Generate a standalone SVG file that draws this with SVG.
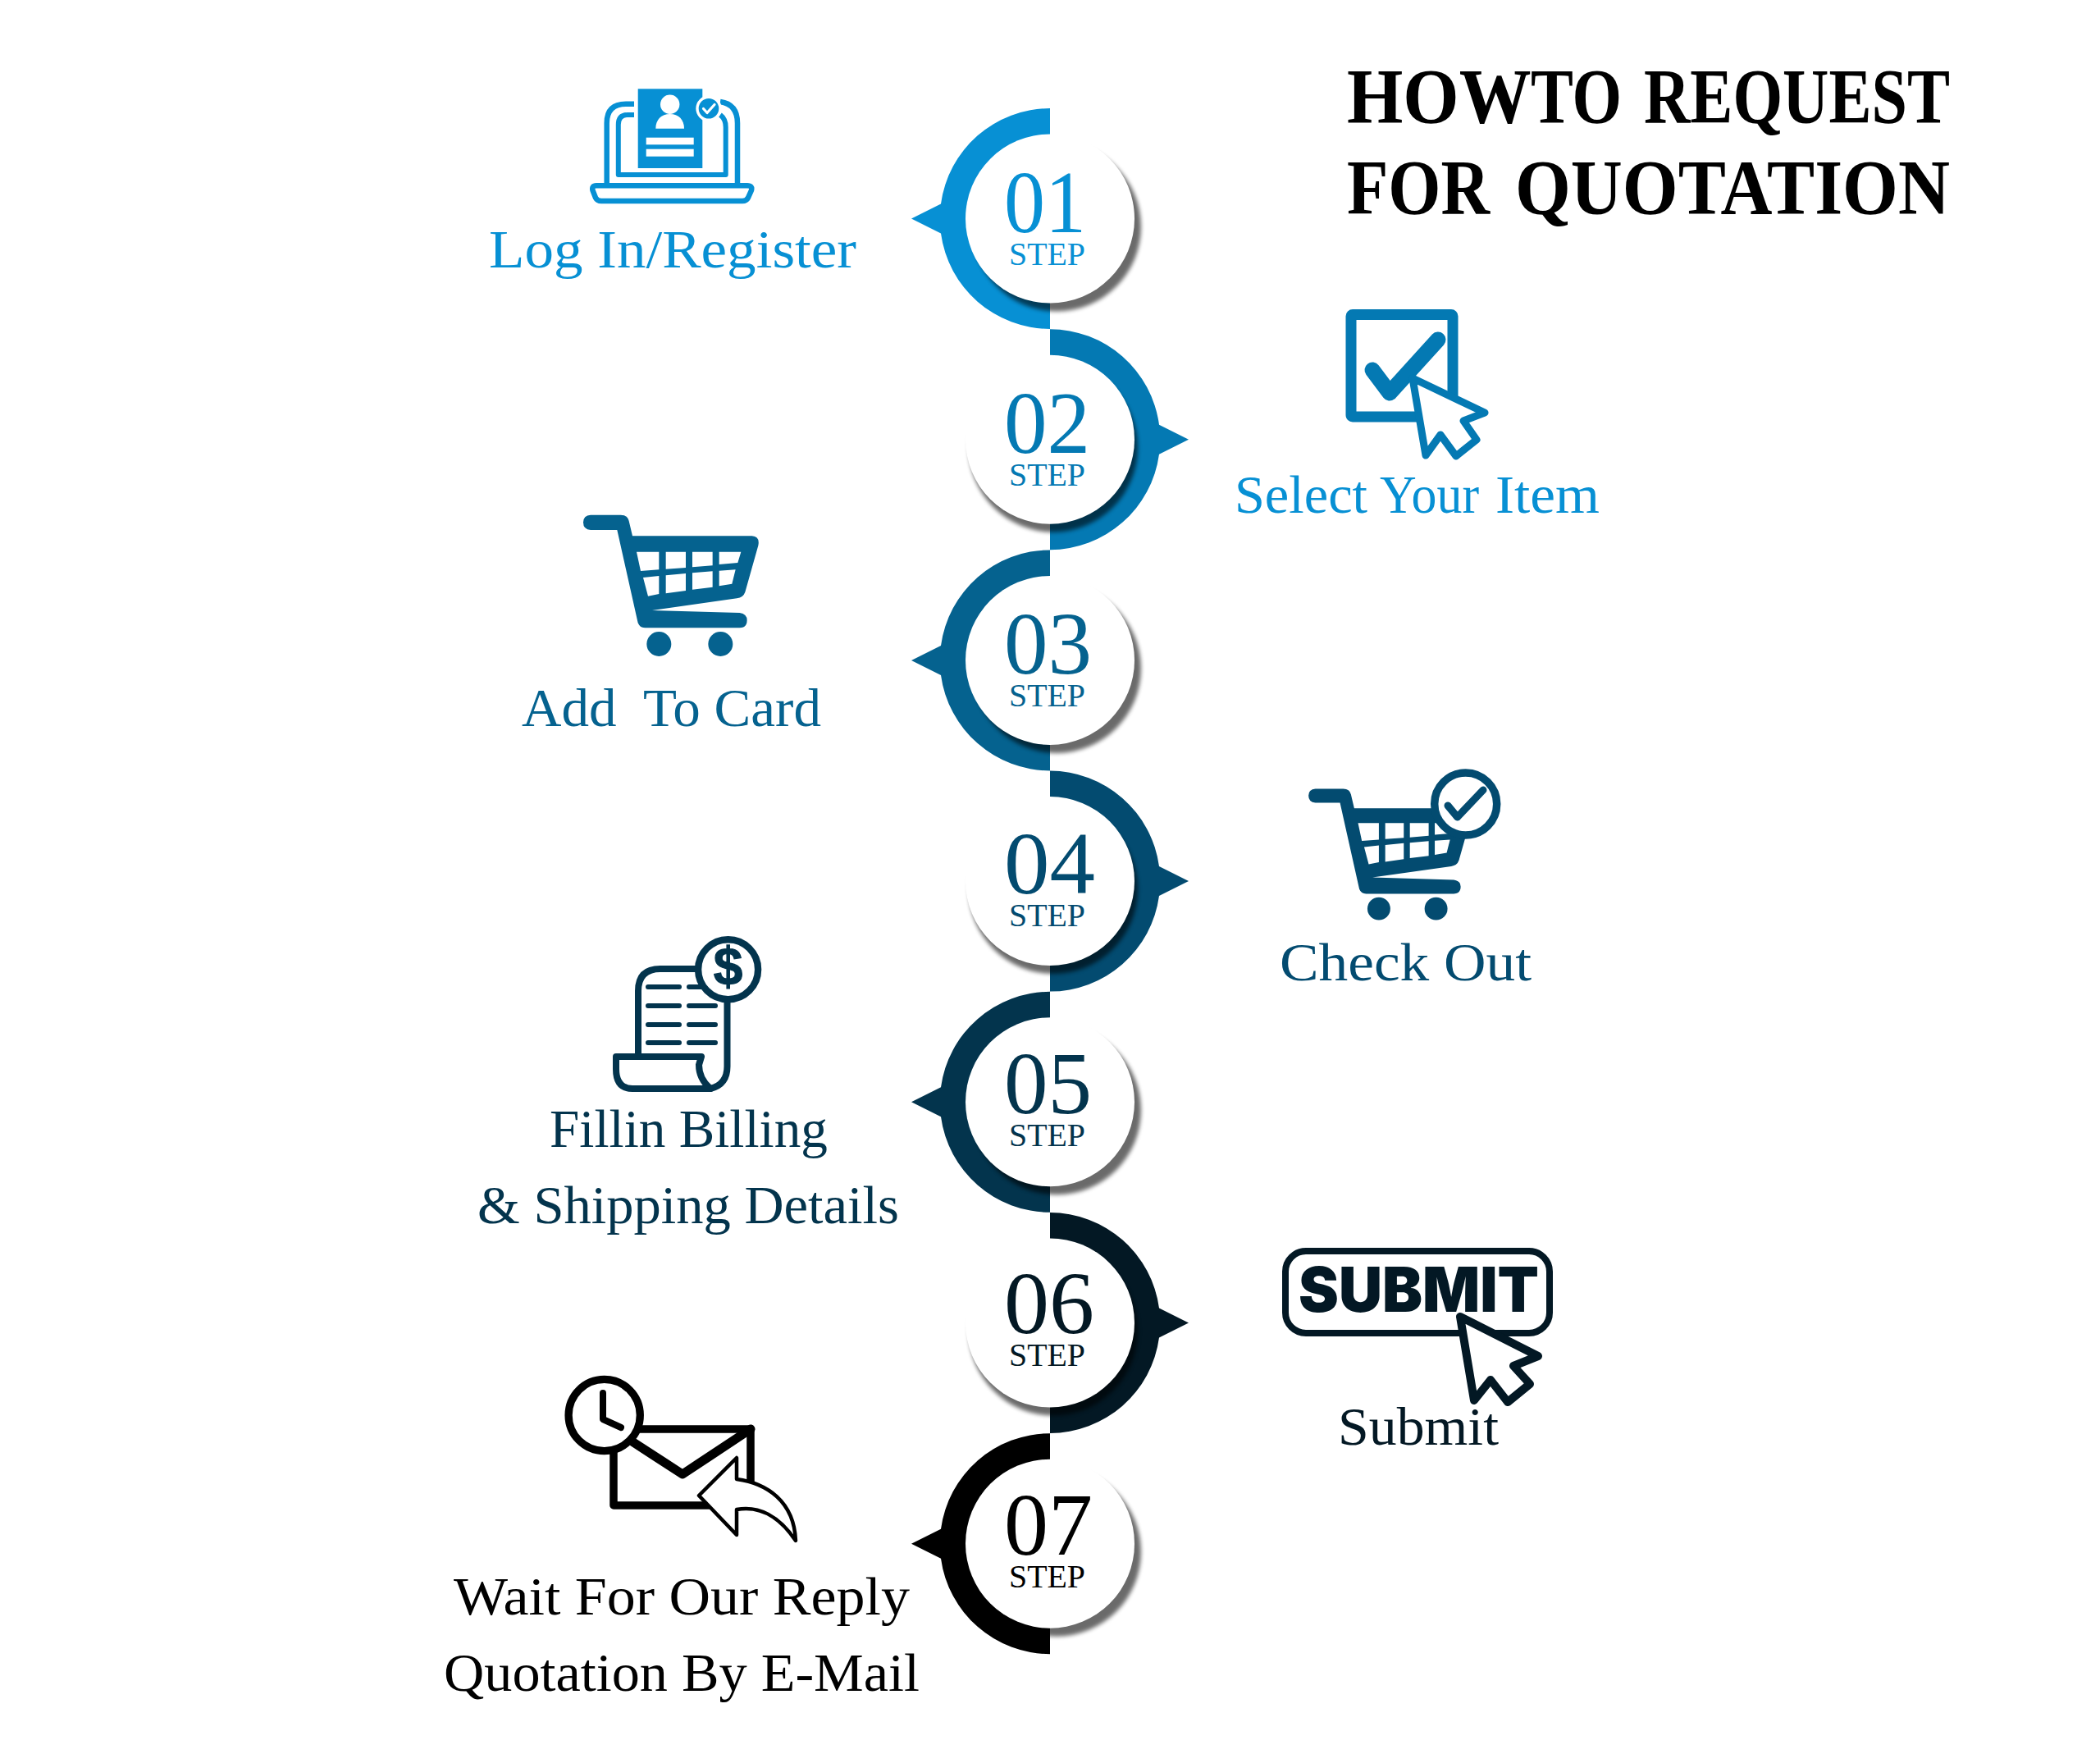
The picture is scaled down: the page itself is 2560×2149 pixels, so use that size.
<svg xmlns="http://www.w3.org/2000/svg" width="2560" height="2149" viewBox="0 0 2560 2149">
<style>
text{font-family:"Liberation Serif","Times New Roman",serif;fill:currentColor}
.c1{color:#0790d4}.c2{color:#0479b3}.c3{color:#05628f}.c4{color:#034b70}.c5{color:#03344d}.c6{color:#031824}.c7{color:#000}
.f{fill:currentColor}.s{fill:none;stroke:currentColor;stroke-linecap:round;stroke-linejoin:round}
.w{fill:#fff}
.num{font-size:108px}.stp{font-size:40px}.lab{font-size:66px}.ttl{font-size:95px;font-weight:700}
.sh{fill:#000;opacity:.58;filter:url(#blur)}
.cur{fill:#fff;stroke:currentColor;stroke-linejoin:round}
</style>
<defs>
<filter id="blur" x="-20%" y="-20%" width="140%" height="140%"><feGaussianBlur stdDeviation="2.5"/></filter>
<path id="halfL" d="M0-134.5A134.5 134.5 0 0 0-133-18L-169 0-133 18A134.5 134.5 0 0 0 0 134.5Z"/>
<path id="halfR" d="M0-134.5A134.5 134.5 0 0 1 133-18L169 0 133 18A134.5 134.5 0 0 1 0 134.5Z"/>
<g id="disc"><circle r="103" class="w"/></g>
<g id="cart">
<path class="f" fill-rule="evenodd" d="M360 83H470Q495 83 500 105L513 160H950Q980 162 973 195L925 365Q918 385 895 388L585 432 905 441Q932 445 932 468 932 495 905 496H560Q540 496 533 478L457 138H360Q333 136 333 110 333 85 360 83ZM528 218H610V283L543 288ZM635 218H708V276L635 281ZM732 218H806V268L732 274ZM830 218H910L898 258 830 264ZM552 312 610 306V372L570 380ZM635 304 708 297V360L635 370ZM732 295 806 289V347L732 356ZM830 287 890 283 877 335 830 343Z"/>
<circle class="f" cx="610" cy="555" r="45"/><circle class="f" cx="835" cy="555" r="45"/>
</g>
</defs>
<rect width="2560" height="2149" fill="#fff"/>
<g id="title" class="c7">
<text class="ttl" y="150"><tspan x="1642" textLength="223" lengthAdjust="spacingAndGlyphs">HOW</tspan> <tspan x="1866" textLength="111" lengthAdjust="spacingAndGlyphs">TO</tspan> <tspan x="2004" textLength="373" lengthAdjust="spacingAndGlyphs">REQUEST</tspan></text>
<text class="ttl" y="261"><tspan x="1642" textLength="174" lengthAdjust="spacingAndGlyphs">FOR</tspan> <tspan x="1847" textLength="530" lengthAdjust="spacingAndGlyphs">QUOTATION</tspan></text>
</g>
<g id="connectors"></g>

<g id="step-01" class="c1" transform="translate(1280 266.5)">
<use href="#halfL" class="f"/><circle class="sh" cx="8" cy="10" r="103"/><use href="#disc"/>
<text class="num" x="-56" y="16.5" textLength="100" lengthAdjust="spacingAndGlyphs">01</text><text class="stp" x="-50" y="56.5" textLength="93" lengthAdjust="spacingAndGlyphs">STEP</text>
</g>
<g id="step-02" class="c2" transform="translate(1280 535.7)">
<use href="#halfR" class="f"/><circle class="sh" cx="4" cy="10" r="103"/><use href="#disc"/>
<text class="num" x="-56" y="16.5" textLength="105" lengthAdjust="spacingAndGlyphs">02</text><text class="stp" x="-50" y="56.5" textLength="93" lengthAdjust="spacingAndGlyphs">STEP</text>
</g>
<g id="step-03" class="c3" transform="translate(1280 804.9)">
<use href="#halfL" class="f"/><circle class="sh" cx="8" cy="10" r="103"/><use href="#disc"/>
<text class="num" x="-56" y="16.5" textLength="107" lengthAdjust="spacingAndGlyphs">03</text><text class="stp" x="-50" y="56.5" textLength="93" lengthAdjust="spacingAndGlyphs">STEP</text>
</g>
<g id="step-04" class="c4" transform="translate(1280 1074.1)">
<use href="#halfR" class="f"/><circle class="sh" cx="4" cy="10" r="103"/><use href="#disc"/>
<text class="num" x="-56" y="15" textLength="111" lengthAdjust="spacingAndGlyphs">04</text><text class="stp" x="-50" y="55" textLength="93" lengthAdjust="spacingAndGlyphs">STEP</text>
</g>
<g id="step-05" class="c5" transform="translate(1280 1343.3)">
<use href="#halfL" class="f"/><circle class="sh" cx="8" cy="10" r="103"/><use href="#disc"/>
<text class="num" x="-56" y="13.5" textLength="107" lengthAdjust="spacingAndGlyphs">05</text><text class="stp" x="-50" y="53.5" textLength="93" lengthAdjust="spacingAndGlyphs">STEP</text>
</g>
<g id="step-06" class="c6" transform="translate(1280 1612.5)">
<use href="#halfR" class="f"/><circle class="sh" cx="4" cy="10" r="103"/><use href="#disc"/>
<text class="num" x="-56" y="12" textLength="110" lengthAdjust="spacingAndGlyphs">06</text><text class="stp" x="-50" y="52" textLength="93" lengthAdjust="spacingAndGlyphs">STEP</text>
</g>
<g id="step-07" class="c7" transform="translate(1280 1881.7)">
<use href="#halfL" class="f"/><circle class="sh" cx="8" cy="10" r="103"/><use href="#disc"/>
<text class="num" x="-56" y="13.5" textLength="108" lengthAdjust="spacingAndGlyphs">07</text><text class="stp" x="-50" y="53.5" textLength="93" lengthAdjust="spacingAndGlyphs">STEP</text>
</g>

<g id="login" class="c1">
<path class="s" stroke-width="6.5" style="stroke-linecap:butt" d="M773 126.8H763Q739.7 126.8 739.7 150V226M899 226V150Q899 127 878 124"/>
<path class="s" stroke-width="6" style="stroke-linecap:butt" d="M773 140H765Q753.8 140 753.8 152V213H884.7V155Q884.7 145 878 140"/>
<rect class="f" x="777.7" y="108.3" width="78.6" height="96.7"/>
<circle class="w" cx="816.7" cy="127.3" r="11.7"/>
<path class="w" d="M799.3 156.7C799.3 146 806 139 816.7 139S834 146 834 156.7Z"/>
<rect class="w" x="787.7" y="167.7" width="58" height="8.6"/><rect class="w" x="787.7" y="181.7" width="58" height="9"/>
<circle class="f" cx="864" cy="132.3" r="14" stroke="#fff" stroke-width="3.4"/>
<path d="M857.5 132.5 862 137.5 871 127.5" fill="none" stroke="#fff" stroke-width="3.2" stroke-linecap="round" stroke-linejoin="round"/>
<path class="w" stroke="currentColor" stroke-width="6.5" stroke-linejoin="round" d="M727 226.2H911Q917.5 226.2 916 232L912 241Q910 245 905 245H733Q728 245 726 241L722.5 232Q721 226.2 727 226.2Z"/>
<text class="lab" x="596" y="326" textLength="448" lengthAdjust="spacingAndGlyphs">Log In/Register</text>
</g>

<g id="select" class="c2">
<rect x="1647" y="383.5" width="124" height="124.5" rx="2" class="s" stroke-width="13"/>
<path class="s" stroke-width="19" d="M1673 451 1694 479 1753 414"/>
<path class="cur" stroke-width="9" d="M1722 461 1810 503 1784 513 1800 536 1775 556 1756 530 1738 555Z"/>
<text class="lab c1" y="625"><tspan x="1505" textLength="162" lengthAdjust="spacingAndGlyphs">Select</tspan> <tspan x="1682" textLength="121" lengthAdjust="spacingAndGlyphs">Your</tspan> <tspan x="1823" textLength="127" lengthAdjust="spacingAndGlyphs">Item</tspan></text>
</g>

<g id="add-to-card" class="c3">
<use href="#cart" transform="translate(600 600) scale(.33333)"/>
<text class="lab" x="636" y="885" textLength="365" lengthAdjust="spacingAndGlyphs" xml:space="preserve">Add  To Card</text>
</g>

<g id="check-out" class="c4">
<use href="#cart" transform="translate(1492 935.8) scale(.3097)"/>
<circle cx="1786.7" cy="980" r="38" class="w" stroke="currentColor" stroke-width="9.5"/>
<path class="s" stroke-width="9" d="M1765 982 1776.7 996 1808 963"/>
<text class="lab" x="1560" y="1195" textLength="307" lengthAdjust="spacingAndGlyphs">Check Out</text>
</g>

<g id="billing" class="c5">
<path class="s" stroke-width="8" d="M778 1287V1208Q778 1181 805 1181H860M886.5 1222V1300Q886.5 1322 866 1327"/>
<path class="s" stroke-width="6" d="M790 1203H828M840 1203H872M790 1226H828M840 1226H872M790 1249H828M840 1249H872M790 1271H828M840 1271H872"/>
<path class="s" stroke-width="8" d="M855 1288H751V1303Q751 1327 771 1327H866Q852 1315 852 1298L855 1288"/>
<circle cx="887.6" cy="1181.7" r="36.5" class="w" stroke="currentColor" stroke-width="8.4"/>
<text x="887.6" y="1200" font-size="64" text-anchor="middle" font-weight="700" stroke="currentColor" stroke-width="1.2" style="font-family:'Liberation Sans',Arial,sans-serif">$</text>
<text class="lab" x="670" y="1398" textLength="339" lengthAdjust="spacingAndGlyphs">Fillin Billing</text>
<text class="lab" x="582" y="1491" textLength="514" lengthAdjust="spacingAndGlyphs">&amp; Shipping Details</text>
</g>

<g id="submit" class="c6">
<rect x="1567" y="1525" width="322" height="100" rx="25" class="s" stroke-width="8"/>
<text x="1583" y="1599" font-size="75" font-weight="900" textLength="293" lengthAdjust="spacingAndGlyphs" style="font-family:Inter,'Liberation Sans',sans-serif">SUBMIT</text>
<path class="cur" stroke-width="10" d="M1780 1605 1875 1653 1845 1665 1865 1687 1838 1709 1817 1682 1797 1707Z"/>
<text class="lab" x="1631" y="1761" textLength="196" lengthAdjust="spacingAndGlyphs">Submit</text>
</g>

<g id="reply" class="c7">
<rect x="748" y="1742" width="167" height="93" class="s" stroke-width="9.5"/>
<path class="s" stroke-width="11" d="M772 1758 832 1797 915 1742"/>
<circle cx="736.7" cy="1725" r="43.6" class="w" stroke="currentColor" stroke-width="9.3"/>
<path class="s" stroke-width="8" d="M735 1698V1730L757 1740"/>
<path class="w" stroke="currentColor" stroke-width="4.5" stroke-linejoin="round" d="M852 1823 898 1777V1803C935 1808 968 1830 970 1878 950 1848 925 1835 898 1840V1871Z"/>
<text class="lab" x="553" y="1967.5" textLength="556" lengthAdjust="spacingAndGlyphs">Wait For Our Reply</text>
<text class="lab" x="541" y="2060.5" textLength="580" lengthAdjust="spacingAndGlyphs">Quotation By E-Mail</text>
</g>
</svg>
